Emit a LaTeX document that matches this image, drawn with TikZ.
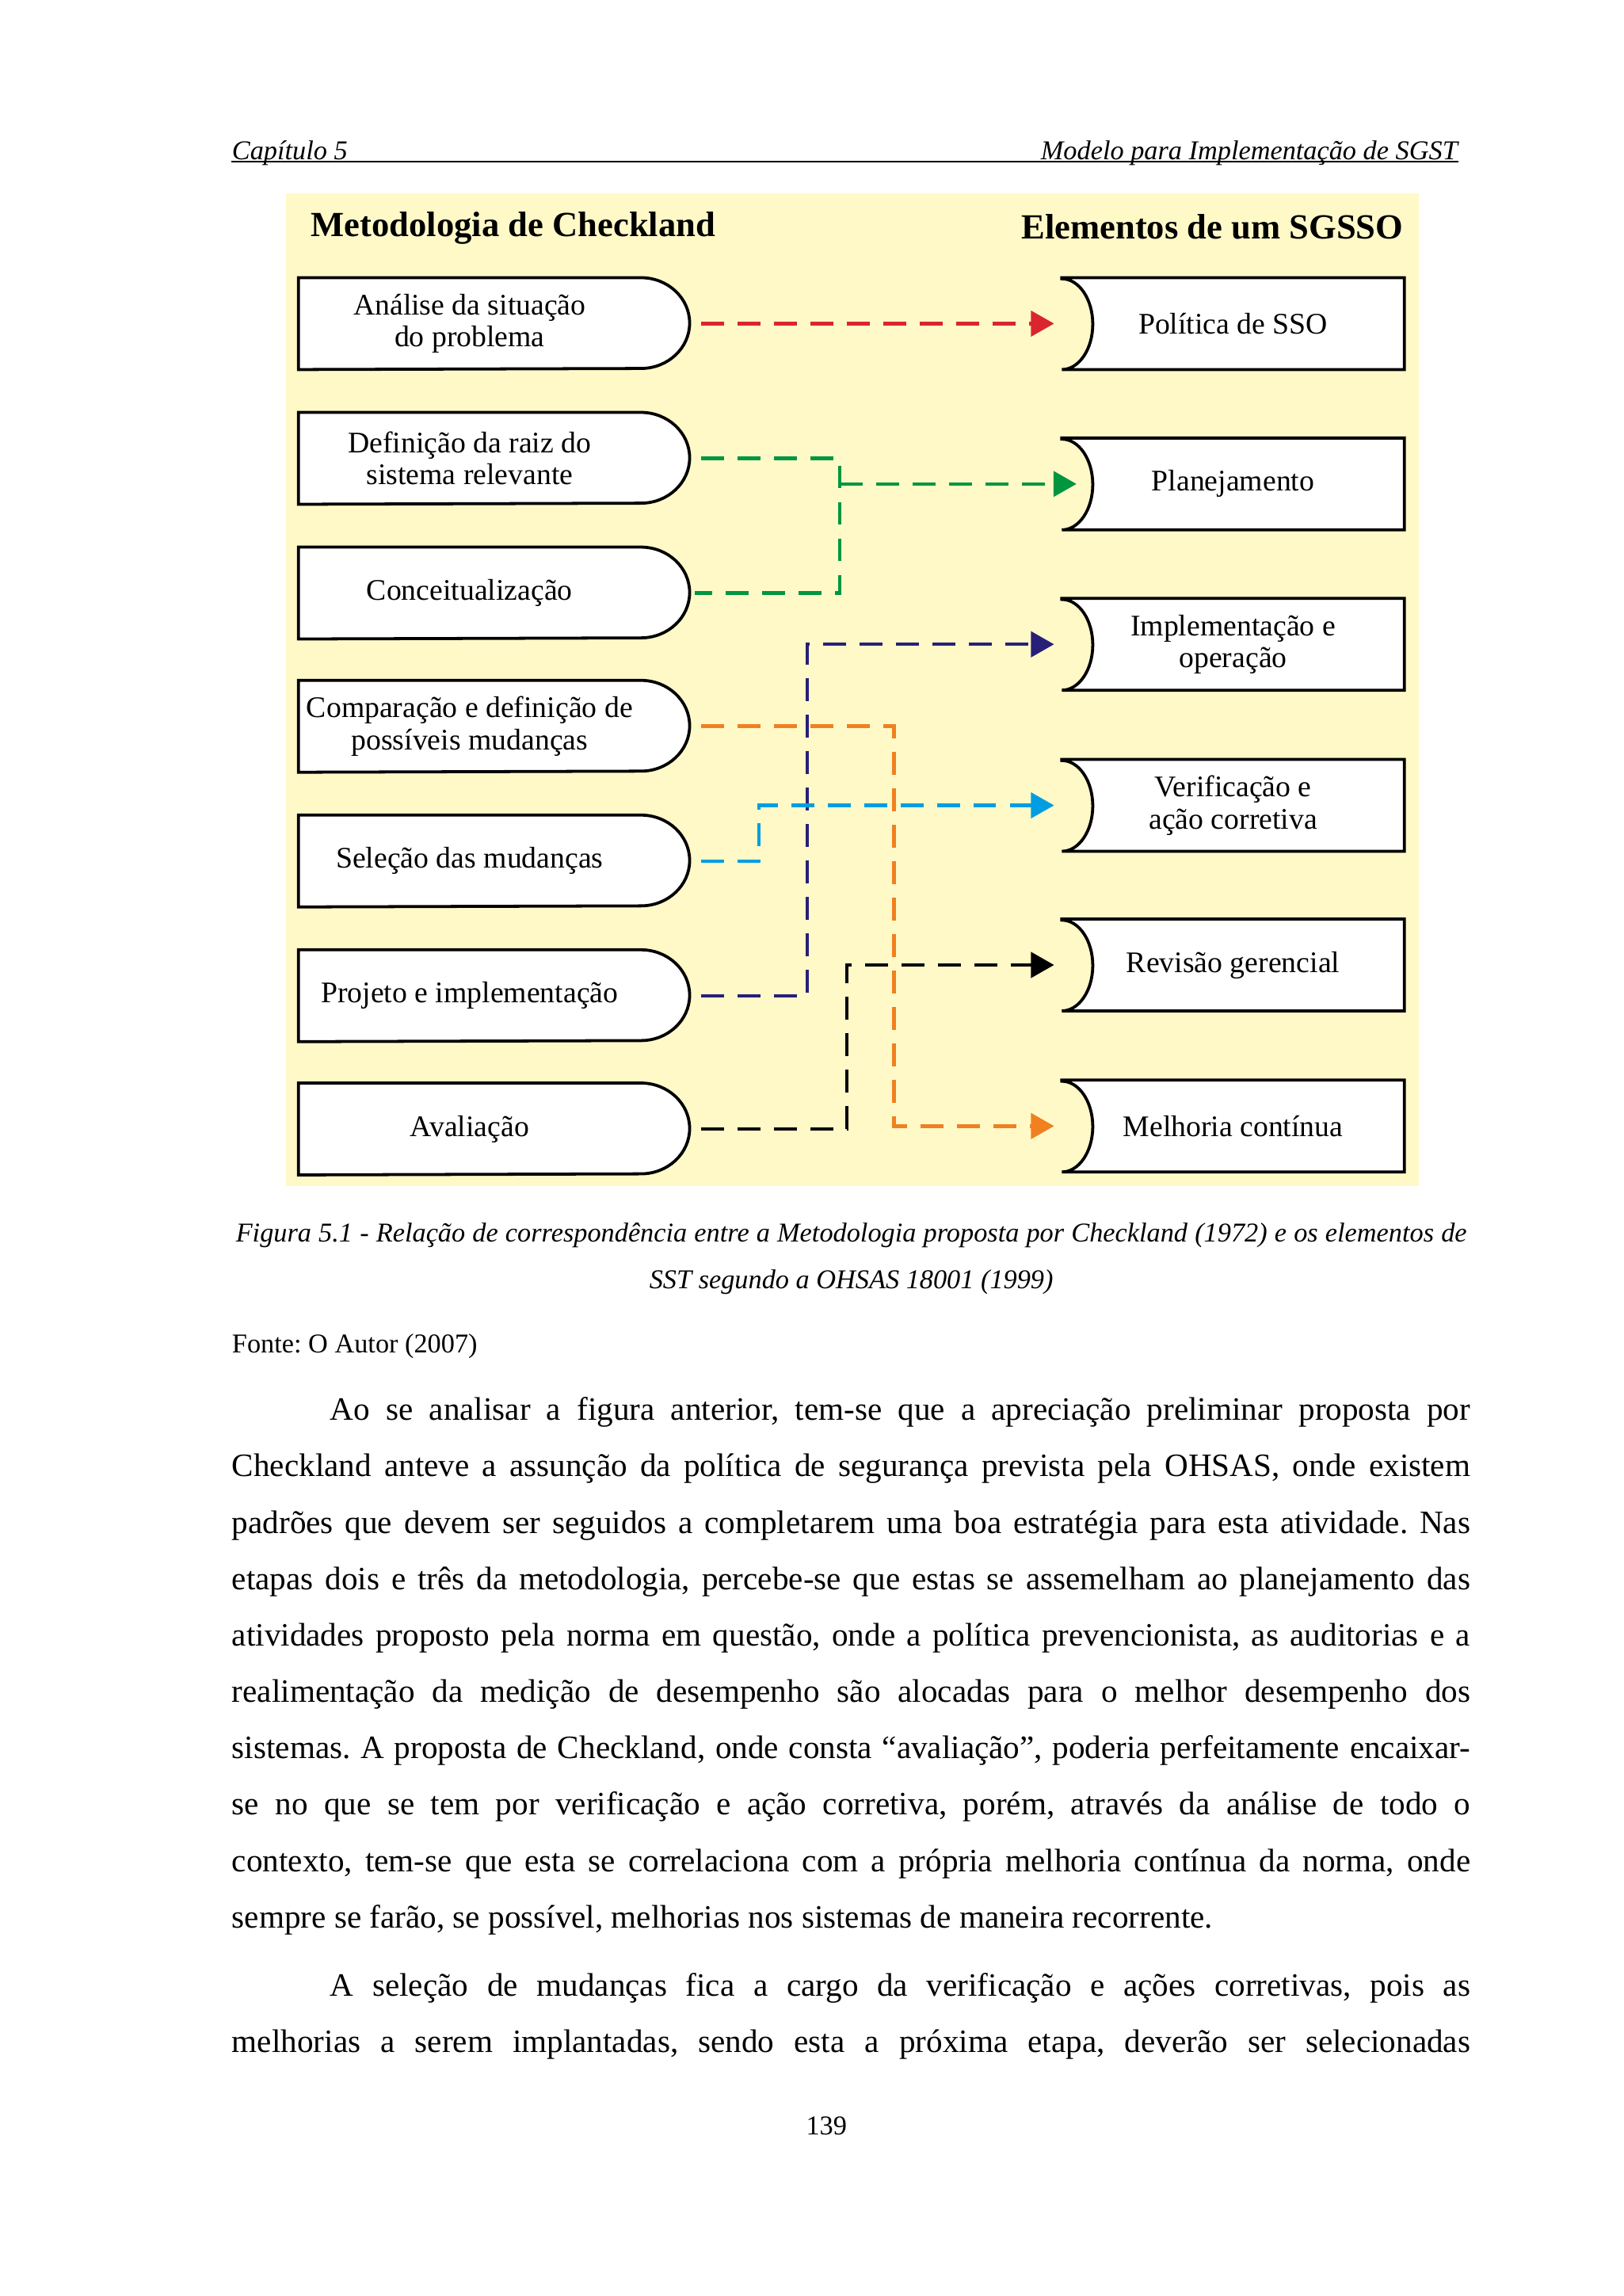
\documentclass[tikz,border=0pt]{standalone}
\usepackage{fontspec}
\setmainfont{Liberation Serif}
\usetikzlibrary{arrows.meta, backgrounds}
\frenchspacing
\definecolor{panelbg}{RGB}{255,249,200}
\definecolor{cred}{RGB}{218,37,45}
\definecolor{cgreen}{RGB}{0,150,64}
\definecolor{cnavy}{RGB}{40,32,120}
\definecolor{corange}{RGB}{240,128,32}
\definecolor{cblue}{RGB}{0,158,224}
\newcommand{\jline}[2]{\makebox[#1][s]{#2}}
% outlines of the two box kinds, drawn from the node anchors
\newcommand{\leftshape}[1]{\draw[boxline] (#1.north west) -- (#1.north east)
  arc[start angle=90, end angle=-90, x radius=0.63cm, y radius=0.587cm] -- (#1.south west) -- cycle;}
\newcommand{\rightshape}[1]{\draw[boxline] (#1.north west) -- (#1.north east) -- (#1.south east) -- (#1.south west)
  arc[start angle=-90, end angle=90, x radius=0.4cm, y radius=0.587cm] -- cycle;}
\tikzset{
  boxline/.style={draw=black, line width=1.1pt, fill=white},
  lbox/.style={minimum width=4.416cm, minimum height=1.174cm, inner sep=0pt,
    align=center, font=\fontsize{11}{11.8}\selectfont},
  rbox/.style={lbox},
  panel title/.style={font=\fontsize{13}{15}\selectfont\bfseries, inner sep=0pt},
  link/.style={line width=1.3pt, dash pattern=on 8.4pt off 5pt},
  tip/.style={-{Triangle[length=8.5pt,width=9.3pt]}, shorten >=0.1cm},
  bodyline/.style={anchor=base west, inner sep=0pt, font=\fontsize{12}{14}\selectfont},
  smallline/.style={inner sep=0pt, font=\fontsize{10}{12}\selectfont},
}

\begin{document}
\begin{tikzpicture}[x=0.018953cm, y=-0.018941cm]
  \useasboundingbox (0,0) rectangle (1108,1568);

  % page header
  \node[smallline, anchor=base west, font=\fontsize{10}{12}\selectfont\itshape] (hleft) at (158,109) {Capítulo 5};
  \node[smallline, anchor=base east, font=\fontsize{10}{12}\selectfont\itshape] (hright) at (995,109) {Modelo para Implementação de SGST};
  \coordinate (rulea) at (158,110.5);
  \coordinate (ruleb) at (995,110.5);
  \draw[line width=0.6pt] (rulea) -- (ruleb);

  % titles
  \node[panel title, anchor=west] (tleft) at (212,156) {Metodologia de Checkland};
  \node[panel title, anchor=east] (tright) at (958,155) {Elementos de um SGSSO};

  % Checkland steps
  \node[lbox] (l1) at (320.5,221) {Análise da situação\\do problema};
  \node[lbox] (l2) at (320.5,313) {Definição da raiz do\\sistema relevante};
  \node[lbox] (l3) at (320.5,405) {Conceitualização};
  \node[lbox] (l4) at (320.5,496) {Comparação e definição de\\possíveis mudanças};
  \node[lbox] (l5) at (320.5,588) {Seleção das mudanças};
  \node[lbox] (l6) at (320.5,680) {Projeto e implementação};
  \node[lbox] (l7) at (320.5,771) {Avaliação};

  % SGSSO elements
  \node[rbox] (r1) at (841.5,221) {Política de SSO};
  \node[rbox] (r2) at (841.5,330.5) {Planejamento};
  \node[rbox] (r3) at (841.5,440) {Implementação e\\operação};
  \node[rbox] (r4) at (841.5,550) {Verificação e\\ação corretiva};
  \node[rbox] (r5) at (841.5,659) {Revisão gerencial};
  \node[rbox] (r6) at (841.5,769) {Melhoria contínua};

  % columns of the vertical runs
  \coordinate (gx) at (573,0);
  \coordinate (nx) at (551,0);
  \coordinate (ox) at (610,0);
  \coordinate (bx) at (518,0);
  \coordinate (kx) at (578,0);

  \draw[link, cred, tip] ([xshift=0.78cm]l1.east) -- (r1.west);
  \draw[link, cgreen] ([xshift=0.78cm]l2.east) -- (gx |- l2.east) -- (gx |- l3.east) -- ([xshift=0.7cm]l3.east);
  \draw[link, cgreen, tip, shorten >=-0.19cm] (gx |- r2.west) -- (r2.west);
  \draw[link, cnavy, tip] ([xshift=0.78cm]l6.east) -| (nx |- r3.west) -- (r3.west);
  \draw[link, corange, tip] ([xshift=0.78cm]l4.east) -| (ox |- r6.west) -- (r6.west);
  \draw[link, cblue, tip] ([xshift=0.78cm]l5.east) -| (bx |- r4.west) -- (r4.west);
  \draw[link, black, tip] ([xshift=0.78cm]l7.east) -| (kx |- r5.west) -- (r5.west);

  \begin{scope}[on background layer]
    \fill[white] (0,0) rectangle (1108,1568);
    \fill[panelbg] (195,132) rectangle (968,810);
    \foreach \n in {l1,l2,l3,l4,l5,l6,l7} {\leftshape{\n}}
    \foreach \n in {r1,r2,r3,r4,r5,r6} {\rightshape{\n}}
  \end{scope}

  % caption and source
  \node[smallline, anchor=base, font=\fontsize{10}{12}\selectfont\itshape] (cap1) at (581,848)
    {\jline{15.92cm}{Figura 5.1 - Relação de correspondência entre a Metodologia proposta por Checkland (1972) e os elementos de}};
  \node[smallline, anchor=base, font=\fontsize{10}{12}\selectfont\itshape] (cap2) at (581,880)
    {SST segundo a OHSAS 18001 (1999)};
  \node[smallline, anchor=base west] (fonte) at (158,924) {Fonte: O Autor (2007)};

  % body text
  \node[bodyline] (p1) at (225,970) {\jline{14.745cm}{Ao se analisar a figura anterior, tem-se que a apreciação preliminar proposta por}};
  \node[bodyline] (p2) at (158,1008.5) {\jline{16.015cm}{Checkland anteve a assunção da política de segurança prevista pela OHSAS, onde existem}};
  \node[bodyline] (p3) at (158,1047) {\jline{16.015cm}{padrões que devem ser seguidos a completarem uma boa estratégia para esta atividade. Nas}};
  \node[bodyline] (p4) at (158,1085.5) {\jline{16.015cm}{etapas dois e três da metodologia, percebe-se que estas se assemelham ao planejamento das}};
  \node[bodyline] (p5) at (158,1124) {\jline{16.015cm}{atividades proposto pela norma em questão, onde a política prevencionista, as auditorias e a}};
  \node[bodyline] (p6) at (158,1162.5) {\jline{16.015cm}{realimentação da medição de desempenho são alocadas para o melhor desempenho dos}};
  \node[bodyline] (p7) at (158,1201) {\jline{16.015cm}{sistemas. A proposta de Checkland, onde consta “avaliação”, poderia perfeitamente encaixar-}};
  \node[bodyline] (p8) at (158,1239.5) {\jline{16.015cm}{se no que se tem por verificação e ação corretiva, porém, através da análise de todo o}};
  \node[bodyline] (p9) at (158,1278) {\jline{16.015cm}{contexto, tem-se que esta se correlaciona com a própria melhoria contínua da norma, onde}};
  \node[bodyline] (p10) at (158,1316.5) {sempre se farão, se possível, melhorias nos sistemas de maneira recorrente.};
  \node[bodyline] (q1) at (225,1363) {\jline{14.745cm}{A seleção de mudanças fica a cargo da verificação e ações corretivas, pois as}};
  \node[bodyline] (q2) at (158,1401.5) {\jline{16.015cm}{melhorias a serem implantadas, sendo esta a próxima etapa, deverão ser selecionadas}};

  % page number
  \node[smallline, anchor=base] (pnum) at (564,1458) {139};
\end{tikzpicture}
\end{document}
